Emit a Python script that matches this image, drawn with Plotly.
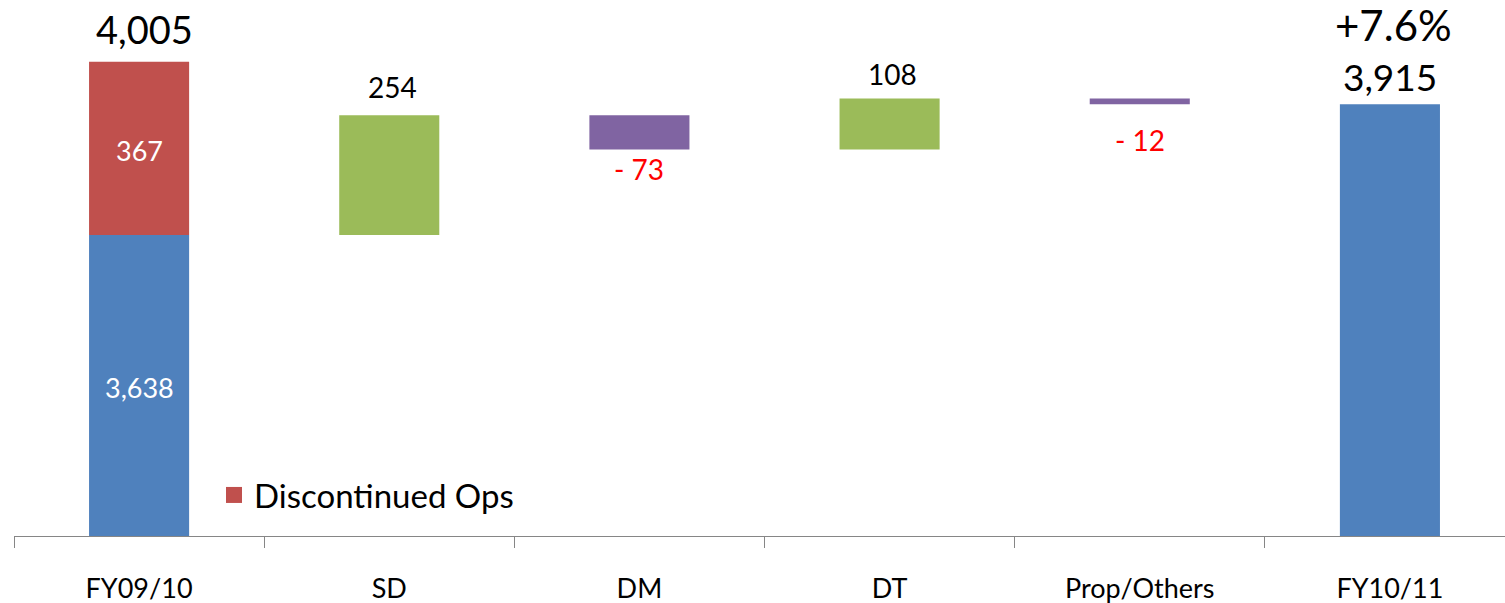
import numpy as np
import plotly.graph_objects as go

# Bridge categories and values
categories = ["FY09/10", "SD", "DM", "DT", "Prop/Others", "FY10/11"]
start_continuing = 3638
discontinued_ops = 367
driver_labels = ["SD", "DM", "DT", "Prop/Others"]
driver_changes = [254, -73, 108, -12]
end_total = 3915

BLUE = "#4F81BD"
RED = "#C0504D"
GREEN = "#9BBB59"
PURPLE = "#8064A2"
FONT = "Lato"

y_min, y_max = 3000, 4100

# Running totals: each driver floats from the previous cumulative level
changes = np.array(driver_changes)
driver_bases = start_continuing + np.concatenate([[0], np.cumsum(changes)[:-1]])
driver_colors = [GREEN if c > 0 else PURPLE for c in changes]

fig = go.Figure()

# Total bars (continuing operations)
fig.add_trace(go.Bar(
    x=[categories[0], categories[-1]],
    y=[start_continuing, end_total],
    marker=dict(color=BLUE, line=dict(width=0)),
    width=0.4, showlegend=False,
))
# Discontinued operations stacked on the opening total
fig.add_trace(go.Bar(
    x=[categories[0]], y=[discontinued_ops], base=[start_continuing],
    marker=dict(color=RED, line=dict(width=0)),
    width=0.4, name="Discontinued Ops", showlegend=False,
))
# Floating driver bars
fig.add_trace(go.Bar(
    x=driver_labels, y=changes, base=driver_bases,
    marker=dict(color=driver_colors, line=dict(width=0)),
    width=0.4, showlegend=False,
))
# Legend entry for discontinued operations
fig.add_trace(go.Scatter(
    x=[None], y=[None], mode="markers", name="Discontinued Ops",
    marker=dict(symbol="square", size=20, color=RED),
    showlegend=True,
))

annotations = []
opening_total = start_continuing + discontinued_ops
growth = (end_total / start_continuing - 1) * 100

# Opening total above the stack
annotations.append(dict(x=categories[0], y=opening_total, text=f"{opening_total:,}",
                        yanchor="bottom", yshift=8, xshift=5, font=dict(size=38, color="black")))
# Inside labels for the stacked bar
annotations.append(dict(x=categories[0], y=(y_min + start_continuing) / 2,
                        text=f"{start_continuing:,}", yshift=-2, font=dict(size=27, color="white")))
annotations.append(dict(x=categories[0], y=start_continuing + discontinued_ops / 2,
                        text=f"{discontinued_ops:,}", yshift=-2, font=dict(size=27, color="white")))

# Driver labels
driver_shift = [9, 0, 6, -17]
for lab, base, c, sh in zip(driver_labels, driver_bases, changes, driver_shift):
    if c > 0:
        annotations.append(dict(x=lab, y=base + c, text=f"{c:,}", yanchor="bottom",
                                yshift=sh, xshift=3, font=dict(size=28, color="black")))
    else:
        annotations.append(dict(x=lab, y=base + c, text=f"- {abs(c):,}", yanchor="top",
                                yshift=sh, font=dict(size=28, color="#FF0000")))

# Closing total and growth
annotations.append(dict(x=categories[-1], y=end_total, text=f"{end_total:,}",
                        yanchor="bottom", yshift=3, font=dict(size=37, color="black")))
annotations.append(dict(x=categories[-1], y=end_total, text=f"+{growth:.1f}%",
                        yanchor="bottom", yshift=52, xshift=4, font=dict(size=42, color="black")))

for a in annotations:
    a.update(xref="x", yref="y", showarrow=False)

fig.update_layout(
    width=1505, height=603,
    margin=dict(l=14, r=0, t=17, b=67, autoexpand=False),
    paper_bgcolor="white", plot_bgcolor="white",
    font=dict(family=FONT, color="black"),
    barmode="overlay",
    annotations=annotations,
    legend=dict(
        xref="paper", yref="paper",
        x=(214 - 14) / 1491, y=(536 - 467) / 519, xanchor="left", yanchor="top",
        font=dict(size=33, color="black", family=FONT),
        bgcolor="rgba(0,0,0,0)",
    ),
    xaxis=dict(
        type="category", categoryorder="array", categoryarray=categories,
        range=[-0.5, 5.46],
        showline=True, linecolor="#868686", linewidth=1,
        ticks="outside", ticklen=11, tickcolor="#868686", tickwidth=1,
        tickson="boundaries", ticklabelstandoff=29,
        tickfont=dict(size=27, color="black", family=FONT),
        showgrid=False, zeroline=False, fixedrange=True,
    ),
    yaxis=dict(
        range=[y_min, y_max], visible=False, showgrid=False, zeroline=False,
        fixedrange=True,
    ),
)

fig.write_html("out.html")
